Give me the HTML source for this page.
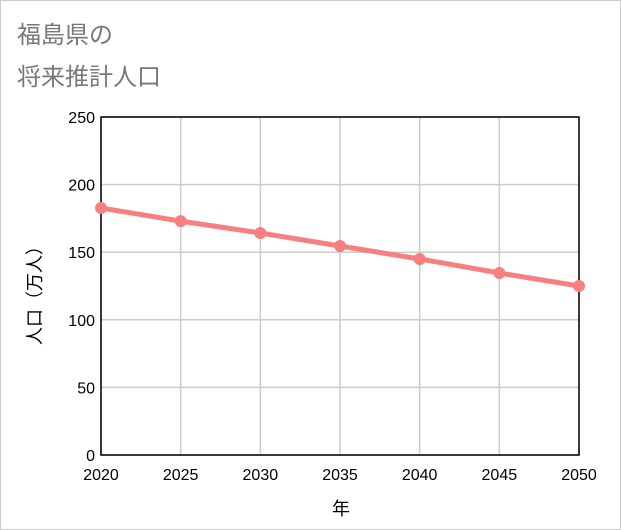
<!DOCTYPE html>
<html><head><meta charset="utf-8"><style>
body{margin:0;background:#fff}
#wrap{position:relative;width:619px;height:528px;border:1px solid #ccc;background:#fff;font-family:"Liberation Sans","Noto Sans CJK JP",sans-serif}
.t{position:absolute;left:16px;font-size:24px;color:#777}
</style></head><body>
<div id="wrap">
<div class="t" style="top:14px">福島県の</div>
<div class="t" style="top:56px">将来推計人口</div>
<svg id="svg" width="619" height="528" style="position:absolute;left:0;top:0"></svg>
</div>
<script>
const years=[2020,2025,2030,2035,2040,2045,2050];
const population=[182.7,173,164.2,154.6,145,134.6,125];
const yTicks=[0,50,100,150,200,250];
const NS="http://www.w3.org/2000/svg";
const svg=document.getElementById('svg');
const L=100,R=578,T=116,B=454;
const x=v=>L+(v-2020)/30*(R-L);
const y=v=>B-v/250*(B-T);
function mk(t,a){const e=document.createElementNS(NS,t);for(const k in a)e.setAttribute(k,a[k]);svg.appendChild(e);return e;}
yTicks.forEach(v=>{
 const g=mk('line',{x1:L,x2:R,y1:y(v),y2:y(v),stroke:'#ccc','stroke-width':1.5});
 
 
 const t=mk('text',{x:L-6,y:y(v)+6,'text-anchor':'end','font-size':16,fill:'#000'});
 t.textContent=v;
 
 
});
years.forEach(v=>{
 const g=mk('line',{x1:x(v),x2:x(v),y1:T,y2:B,stroke:'#ccc','stroke-width':1.5});
 
 
 const t=mk('text',{x:x(v),y:B+25,'text-anchor':'middle','font-size':16,fill:'#000'});
 t.textContent=v;
 
 
});
const fr=mk('rect',{x:L,y:T,width:R-L,height:B-T,fill:'none',stroke:'#000','stroke-width':1.5});


const pl=mk('polyline',{points:years.map((v,i)=>x(v)+','+y(population[i])).join(' '),fill:'none',stroke:'#f77f7f','stroke-width':5});


years.forEach((v,i)=>{
 const c=mk('circle',{cx:x(v),cy:y(population[i]),r:6,fill:'#f77f7f'});
 
 
});
const xt=mk('text',{x:340,y:514,'text-anchor':'middle','font-size':18,fill:'#000'});
xt.textContent='年';


const yt=mk('text',{x:0,y:0,'text-anchor':'middle','font-size':18,fill:'#000',transform:'translate(40,290) rotate(-90)'});
yt.textContent='人口（万人）';


</script>
</body></html>
